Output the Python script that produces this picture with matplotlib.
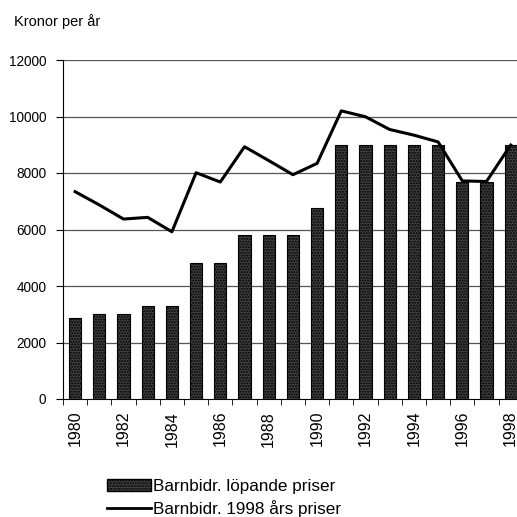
import matplotlib
matplotlib.use("Agg")
import matplotlib.pyplot as plt
from matplotlib.lines import Line2D
from matplotlib.patches import Patch

years = list(range(1980, 1999))
lopande = [2880, 3000, 3000, 3300, 3300, 4800, 4800, 5820, 5820, 5820, 6750,
           9000, 9000, 9000, 9000, 9000, 7680, 7680, 9000]
fast98 = [7340, 6870, 6370, 6430, 5920, 8010, 7680, 8930, 8440, 7940, 8340,
          10200, 9990, 9540, 9340, 9100, 7720, 7700, 8990]
yticks = [0, 2000, 4000, 6000, 8000, 10000, 12000]
xlabels = [str(y) if (y - 1980) % 2 == 0 else "" for y in years]

fam = ['Liberation Sans', 'DejaVu Sans']
fig = plt.figure(figsize=(5.17, 5.17), dpi=100)
ax = fig.add_axes([63/517, 1-399/517, 19*24.2/517, 339/517])

x = list(range(len(years)))
ax.bar(x, lopande, width=0.5, color='#404040', edgecolor='black', linewidth=0.8,
       hatch='......', zorder=3)
ax.plot(x, fast98, color='black', linewidth=2.2, zorder=4)

ax.set_xlim(-0.5, len(years) - 0.5)
ax.set_ylim(0, 12000)
ax.set_yticks(yticks)
ax.set_yticklabels([str(v) for v in yticks], family=fam, fontsize=9.8)
for v in yticks[1:]:
    ax.axhline(v, color='#555555', linewidth=0.9, zorder=1)
ax.set_xticks(x)
ax.set_xticklabels(xlabels, rotation=90, fontsize=11.5, family=fam)
ax.set_xticks([i - 0.5 for i in range(len(years) + 1)], minor=True)
ax.tick_params(axis='x', which='major', length=0, pad=8.5)
ax.tick_params(axis='x', which='minor', length=4, direction='out', color='black')
ax.tick_params(axis='y', length=5, direction='out', pad=7)
for s in ['top', 'right']:
    ax.spines[s].set_visible(False)
ax.spines['left'].set_color('black')
ax.spines['bottom'].set_color('black')

fig.text(14/517, 1-22/517, "Kronor per år", family=fam, fontsize=10.5, va='center')

handles = [Patch(facecolor='#404040', edgecolor='black', hatch='......'),
           Line2D([0], [0], color='black', linewidth=2)]
labels = ["Barnbidr. löpande priser", "Barnbidr. 1998 års priser"]
fig.legend(handles, labels, loc='upper left', bbox_to_anchor=(100/517, 1-472/517),
           frameon=False, prop={'family': fam, 'size': 12.3}, handlelength=2.6,
           handletextpad=0.1, labelspacing=0.35, borderaxespad=0)

fig.savefig("out.png", dpi=100)
